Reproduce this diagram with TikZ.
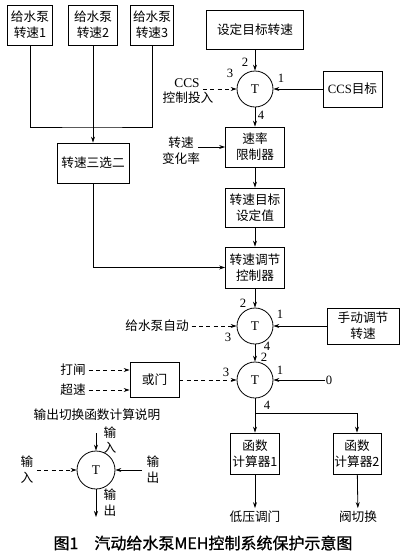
\documentclass[tikz,border=0pt]{standalone}
\usepackage{fontspec}
\setmainfont{Liberation Serif}
\newfontfamily\cjk{Noto Sans CJK SC}
\newfontfamily\cjkcap[FakeBold=1]{Noto Sans CJK SC}
\usetikzlibrary{arrows.meta}

\tikzset{
  bx/.style 2 args={draw, align=center, inner sep=1pt,
    font=\cjk\fontsize{9.5}{12}\selectfont,
    minimum width=#1*0.75pt, minimum height=#2*0.75pt},
  sw/.style={circle, draw, minimum size=27pt, inner sep=0pt,
    font=\fontsize{10}{12}\selectfont},
  lbl/.style={align=center, inner sep=2pt, font=\cjk\fontsize{9.5}{12}\selectfont},
  port/.style={inner sep=0pt, font=\fontsize{9.5}{11}\selectfont},
  sig/.style={-{Stealth[length=4.5pt,width=3pt]}},
  dsig/.style={sig, dash pattern=on 3pt off 2.5pt},
}

\begin{document}
\begin{tikzpicture}[x=0.75pt, y=-0.75pt, line width=0.6pt]
  \useasboundingbox (0,0) rectangle (402,554);

  % blocks
  \node[bx={45}{40}] (pump1)   at (30,25)    {给水泵\\转速1};
  \node[bx={49}{40}] (pump2)   at (93,25)    {给水泵\\转速2};
  \node[bx={43}{40}] (pump3)   at (152,25)   {给水泵\\转速3};
  \node[bx={97}{39}] (target)  at (255,29.5) {设定目标转速};
  \node[bx={59}{36}] (ccsgoal) at (352.5,89) {{\rmfamily CCS}目标};
  \node[bx={72}{40}] (select)  at (93,163)   {转速三选二};
  \node[bx={59}{40}] (limit)   at (255,147)  {速率\\限制器};
  \node[bx={59}{39}] (setval)  at (255,207.5) {转速目标\\设定值};
  \node[bx={59}{41}] (ctrl)    at (255,267.5) {转速调节\\控制器};
  \node[bx={72}{36}] (manual)  at (363,326)  {手动调节\\转速};
  \node[bx={49}{35}] (orgate)  at (154.5,380) {或门};
  \node[bx={49}{41}] (func1)   at (255,453.5) {函数\\计算器1};
  \node[bx={48}{41}] (func2)   at (357,453.5) {函数\\计算器2};

  % switches
  \node[sw] (T1) at (255,89)  {T};
  \node[sw] (T2) at (255,326) {T};
  \node[sw] (T3) at (255,380) {T};
  \node[sw, minimum size=28.5pt] (Tkey) at (96,470) {T};

  % texts
  \node[lbl, font=\fontsize{10}{12}\selectfont] (ccs) at (187,83) {CCS};
  \node[lbl] (ccsin)  at (188,98)  {控制投入};
  \node[lbl] (chg)    at (181,151) {转速\\变化率};
  \node[lbl] (auto)   at (157,326) {给水泵自动};
  \node[lbl] (trip)   at (73,370)  {打闸};
  \node[lbl] (over)   at (73,390)  {超速};
  \node[port] (zero)  at (329,380) {0};
  \node[lbl] (out1)   at (255,517) {低压调门};
  \node[lbl] (out2)   at (358,517) {阀切换};
  \node[lbl] (keytitle) at (97,415) {输出切换函数计算说明};
  \node[lbl, font=\cjk\fontsize{9.5}{11.5}\selectfont] (kin1) at (110,440) {输\\入};
  \node[lbl] (kin2)   at (27,470)  {输\\入};
  \node[lbl] (kout1)  at (153,470) {输\\出};
  \node[lbl] (kout2)  at (110,503) {输\\出};
  \node[font=\cjkcap\fontsize{12}{14}\selectfont] (caption) at (203,543)
    {图1\quad 汽动给水泵MEH控制系统保护示意图};

  % port numbers
  \begin{scope}[every node/.style={port}]
    \node at (245,62)  {2};
    \node at (230,73)  {3};
    \node at (281,78)  {1};
    \node at (261,115) {4};
    \node at (243,303) {2};
    \node at (280,314) {1};
    \node at (228,337) {3};
    \node at (267,346) {4};
    \node at (264,357) {2};
    \node at (280,370) {1};
    \node at (226,372) {3};
    \node at (267,405) {4};
  \end{scope}

  \coordinate (merge)   at (93,127);
  \coordinate (ccsend)  at (203,89);
  \coordinate (chgend)  at (198,147);
  \coordinate (split)   at (255,413);
  \coordinate (kup)     at (96,433);
  \coordinate (kleft)   at (37,470);
  \coordinate (kright)  at (142,470);
  \coordinate (kdown)   at (96,517);

  % connectors
  \draw (pump1) |- (merge) -| (pump3);
  \draw[sig] (pump2) -- (select);
  \draw[sig] (select) |- (ctrl);
  \draw[sig] (target) -- (T1);
  \draw[sig] (ccsgoal) -- (T1);
  \draw[dsig] (ccsend) -- (T1);
  \draw[sig] (T1) -- (limit);
  \draw[sig] (chgend) -- (chgend -| limit.west);
  \draw[sig] (limit) -- (setval);
  \draw[sig] (setval) -- (ctrl);
  \draw[sig] (ctrl) -- (T2);
  \draw[dsig] (auto) -- (T2);
  \draw[sig] (manual) -- (T2);
  \draw[sig] (T2) -- (T3);
  \draw[sig] (zero) -- (T3);
  \draw[dsig] (orgate) -- (T3);
  \draw[dsig] (trip) -- (trip -| orgate.west);
  \draw[dsig] (over) -- (over -| orgate.west);
  \draw (T3) -- (split);
  \draw[sig] (split) -- (func1);
  \draw[sig] (split) -| (func2);
  \draw[sig] (func1) -- (out1);
  \draw[sig] (func2) -- (out2);

  \draw[sig] (kup) -- (Tkey);
  \draw[dsig] (kleft) -- (Tkey);
  \draw[sig] (kright) -- (Tkey);
  \draw[sig] (Tkey) -- (kdown);
\end{tikzpicture}
\end{document}
